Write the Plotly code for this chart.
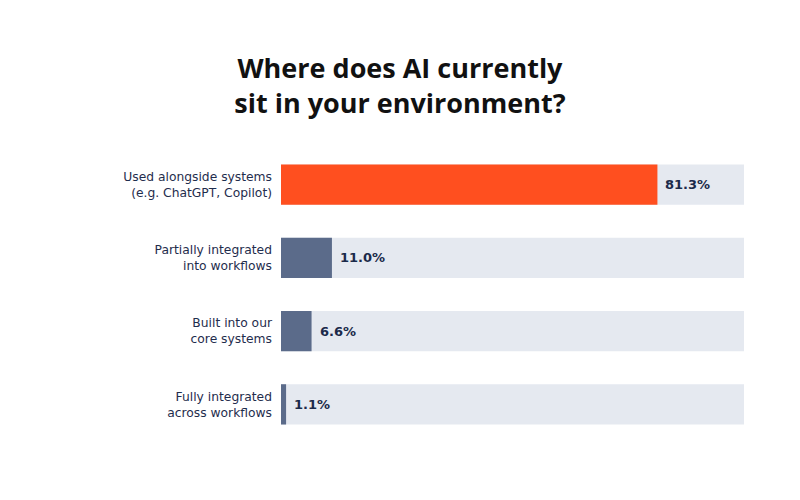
import plotly.graph_objects as go

categories = [
    "Used alongside systems<br>(e.g. ChatGPT, Copilot)",
    "Partially integrated<br>into workflows",
    "Built into our<br>core systems",
    "Fully integrated<br>across workflows",
]
values = [81.3, 11.0, 6.6, 1.1]
value_labels = ["81.3%", "11.0%", "6.6%", "1.1%"]
full = [100, 100, 100, 100]
bar_colors = ["#FF4F1F", "#5B6B8A", "#5B6B8A", "#5B6B8A"]

fig = go.Figure()
fig.add_trace(go.Bar(
    y=categories, x=full, orientation="h",
    marker=dict(color="#E5E9F0", line=dict(width=0)),
    width=0.55, hoverinfo="skip", showlegend=False,
))
fig.add_trace(go.Bar(
    y=categories, x=values, orientation="h",
    marker=dict(color=bar_colors, line=dict(width=0)),
    width=0.55, showlegend=False,
))

for c, v, t in zip(categories, values, value_labels):
    fig.add_annotation(
        x=v, y=c, text=f"<b>{t}</b>", showarrow=False,
        xanchor="left", xshift=6,
        font=dict(family="DejaVu Sans", size=13, color="#1B2A4A"),
    )

fig.update_layout(
    width=800, height=500,
    barmode="overlay",
    plot_bgcolor="white", paper_bgcolor="white",
    margin=dict(l=281, r=56, t=148, b=59),
    title=dict(
        text="<b>Where does AI currently<br>sit in your environment?</b>",
        xref="container", x=0.5, xanchor="center",
        yref="container", y=0.845, yanchor="top",
        font=dict(family="Open Sans", size=27, color="#111111"),
    ),
    xaxis=dict(range=[0, 100], visible=False, fixedrange=True),
    yaxis=dict(
        autorange="reversed", showgrid=False, zeroline=False, showline=False,
        ticks="", ticklabelstandoff=8,
        tickfont=dict(family="DejaVu Sans", size=12.3, color="#1F2D4D"),
    ),
)

fig.write_html("out.html")
